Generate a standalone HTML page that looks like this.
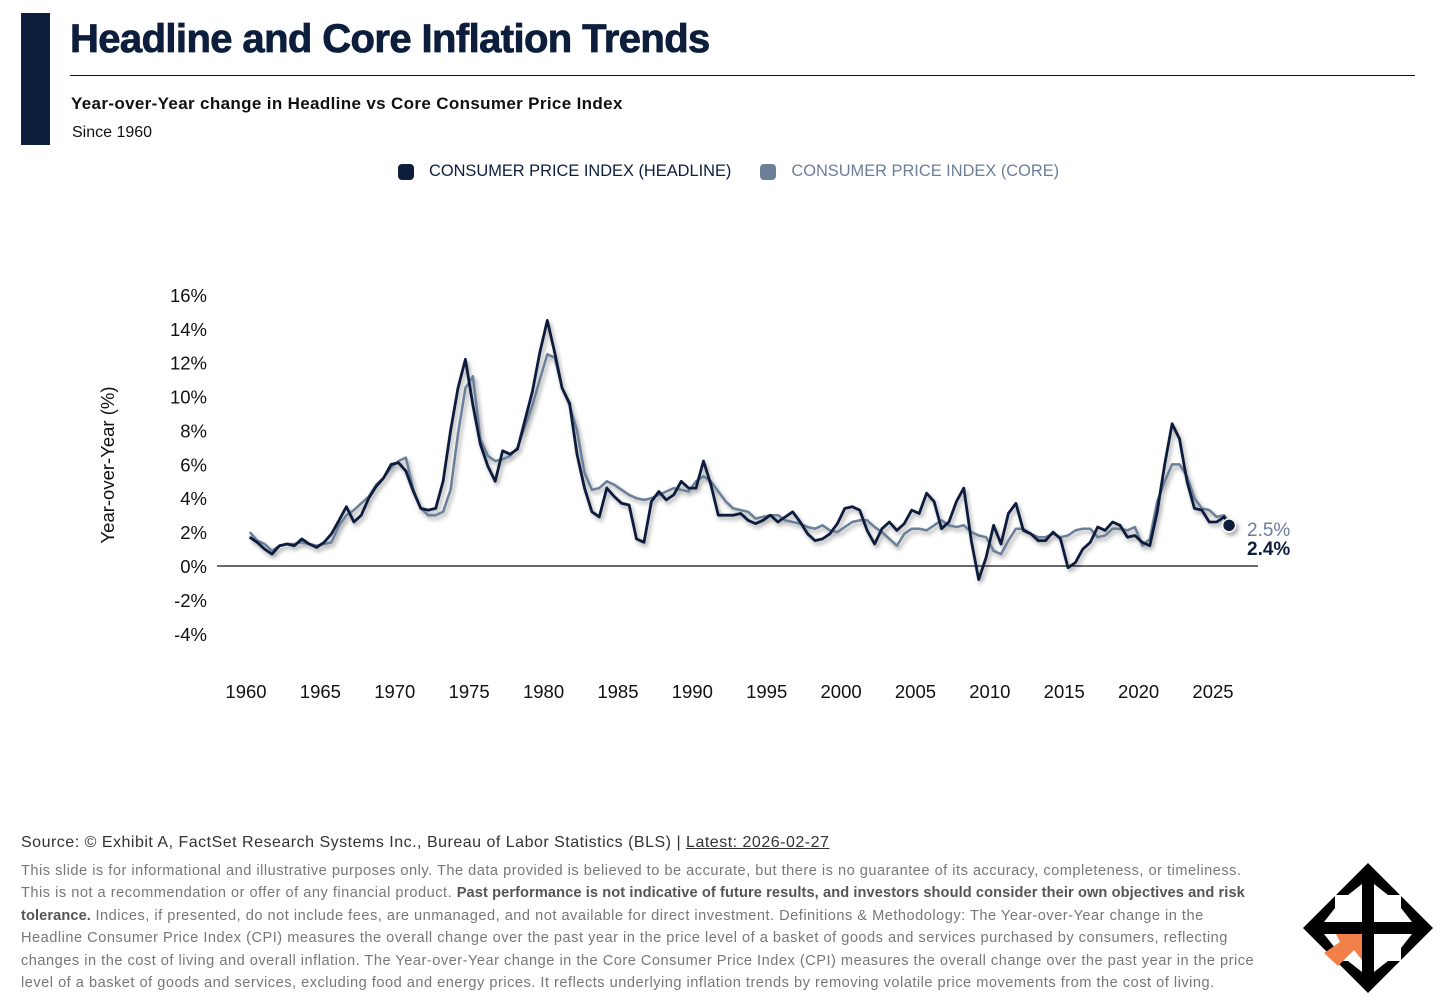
<!DOCTYPE html>
<html><head><meta charset="utf-8"><style>
body{margin:0;width:1456px;height:1007px;background:#fff;font-family:"Liberation Sans",sans-serif;position:relative;overflow:hidden;color:#111}
.abs{position:absolute}
</style></head><body>
<div class="abs" style="left:21px;top:13px;width:29px;height:132px;background:#0c1e3c"></div>
<div class="abs" style="left:70px;top:17px;font-size:40px;font-weight:bold;color:#0c1e3c;letter-spacing:-0.6px;-webkit-text-stroke:0.8px #0c1e3c">Headline and Core Inflation Trends</div>
<div class="abs" style="left:70px;top:75px;width:1345px;height:1px;background:#111"></div>
<div class="abs" style="left:71px;top:94px;font-size:17px;font-weight:bold;letter-spacing:0.35px">Year-over-Year change in Headline vs Core Consumer Price Index</div>
<div class="abs" style="left:72px;top:124px;font-size:16px">Since 1960</div>
<div class="abs" style="left:398px;top:162px;font-size:16.4px;display:flex;align-items:center">
 <span style="width:16px;height:16px;border-radius:4px;background:#0c1e3c;display:inline-block;margin-right:15px"></span><span style="color:#0c1e3c;margin-right:29px">CONSUMER PRICE INDEX (HEADLINE)</span>
 <span style="width:16px;height:16px;border-radius:4px;background:#6b7f99;display:inline-block;margin-right:15px"></span><span style="color:#6b7f99">CONSUMER PRICE INDEX (CORE)</span>
</div>
<svg class="abs" style="left:0;top:0" width="1456" height="800" id="chart">
<defs><filter id="sh" x="-5%" y="-5%" width="110%" height="120%"><feDropShadow dx="2" dy="3" stdDeviation="2" flood-color="#000" flood-opacity="0.35"/></filter></defs>
<g id="axes"></g><g id="series" filter="url(#sh)"></g><g id="labels"></g>
</svg>
<div class="abs" style="left:21px;top:834px;font-size:16px;letter-spacing:0.5px;color:#333">Source: © Exhibit A, FactSet Research Systems Inc., Bureau of Labor Statistics (BLS) | <span style="text-decoration:underline">Latest: 2026-02-27</span></div>
<div class="abs" style="left:21px;top:860px;white-space:nowrap;font-size:14.6px;letter-spacing:0.5px;line-height:22.4px;color:#777">This slide is for informational and illustrative purposes only. The data provided is believed to be accurate, but there is no guarantee of its accuracy, completeness, or timeliness.<br>This is not a recommendation or offer of any financial product. <b style="color:#555;letter-spacing:0.1px">Past performance is not indicative of future results, and investors should consider their own objectives and risk<br>tolerance.</b> Indices, if presented, do not include fees, are unmanaged, and not available for direct investment. Definitions &amp; Methodology: The Year-over-Year change in the<br>Headline Consumer Price Index (CPI) measures the overall change over the past year in the price level of a basket of goods and services purchased by consumers, reflecting<br>changes in the cost of living and overall inflation. The Year-over-Year change in the Core Consumer Price Index (CPI) measures the overall change over the past year in the price<br>level of a basket of goods and services, excluding food and energy prices. It reflects underlying inflation trends by removing volatile price movements from the cost of living.</div>
<svg class="abs" style="left:1300px;top:860px" width="136" height="136" viewBox="0 0 136 136">
<g fill="#000"><polygon points="68,3 100,35 88,35 74,24 74,62 112,62 101,48 101,36 133,68 101,100 101,88 112,74 74,74 74,112 88,101 100,101 68,133 36,101 48,101 62,112 62,74 24,74 35,88 35,100 3,68 35,36 35,48 24,62 62,62 62,24 48,35 36,35"/></g>
<polygon points="36,74 62,74 62,100 54,90 38,106 24,93 40,82" fill="#f07f4a"/>
</svg>
<script>
const yTicks=[16,14,12,10,8,6,4,2,0,-2,-4];
const xTicks=[1960,1965,1970,1975,1980,1985,1990,1995,2000,2005,2010,2015,2020,2025];
const startYear=1960.25, step=0.5;
const headline=[1.7,1.4,1.0,0.7,1.2,1.3,1.2,1.6,1.3,1.1,1.4,1.9,2.7,3.5,2.6,3.0,4.0,4.7,5.2,6.0,6.1,5.6,4.4,3.4,3.3,3.4,5.0,8.0,10.5,12.2,9.5,7.2,5.9,5.0,6.8,6.6,6.9,8.6,10.3,12.6,14.5,12.6,10.5,9.6,6.6,4.6,3.2,2.9,4.6,4.1,3.7,3.6,1.6,1.4,3.8,4.4,3.9,4.2,5.0,4.6,4.6,6.2,4.8,3.0,3.0,3.0,3.1,2.7,2.5,2.7,3.0,2.6,2.9,3.2,2.6,1.9,1.5,1.6,1.9,2.5,3.4,3.5,3.3,2.1,1.3,2.2,2.6,2.1,2.5,3.3,3.1,4.3,3.8,2.2,2.6,3.8,4.6,1.5,-0.8,0.5,2.4,1.3,3.1,3.7,2.1,1.9,1.5,1.5,2.0,1.6,-0.1,0.2,1.0,1.4,2.3,2.1,2.6,2.4,1.7,1.8,1.4,1.2,3.2,6.0,8.4,7.5,5.0,3.4,3.3,2.6,2.6,2.9,2.4];
const core=[2.0,1.5,1.3,0.9,1.2,1.3,1.3,1.4,1.3,1.2,1.3,1.4,2.4,3.0,3.3,3.7,4.1,4.8,5.2,5.8,6.2,6.4,4.5,3.4,3.0,3.0,3.2,4.5,7.8,10.5,11.2,7.5,6.5,6.2,6.3,6.5,7.0,8.2,9.5,11.0,12.5,12.3,10.5,9.5,8.0,5.5,4.5,4.6,5.0,4.8,4.5,4.2,4.0,3.9,4.0,4.2,4.4,4.6,4.5,4.4,5.0,5.3,5.0,4.4,3.8,3.4,3.3,3.2,2.8,2.9,3.0,3.0,2.7,2.6,2.5,2.3,2.2,2.4,2.1,2.0,2.3,2.6,2.7,2.7,2.3,2.0,1.6,1.2,1.9,2.2,2.2,2.1,2.4,2.7,2.4,2.3,2.4,2.0,1.8,1.7,0.9,0.7,1.5,2.2,2.2,1.9,1.7,1.7,1.9,1.7,1.8,2.1,2.2,2.2,1.7,1.8,2.2,2.2,2.1,2.3,1.2,1.6,3.8,5.0,6.0,6.0,5.3,4.0,3.4,3.3,2.9,3.0,2.5];
const latestLabels=["2.5%","2.4%"];
function xs(t){return 246+(t-1960)*14.877;}
function ys(v){return 566-v*16.94;}
const NS="http://www.w3.org/2000/svg";
const ax=document.getElementById('axes'),se=document.getElementById('series'),lb=document.getElementById('labels');
function mk(tag,attrs,parent){const e=document.createElementNS(NS,tag);for(const k in attrs)e.setAttribute(k,attrs[k]);parent.appendChild(e);return e;}
yTicks.forEach(v=>{const t=mk('text',{x:207,y:ys(v)+7,'text-anchor':'end','font-size':18.5,fill:'#111','font-family':'Liberation Sans'},ax);t.textContent=v+'%';

});
xTicks.forEach(v=>{const t=mk('text',{x:xs(v),y:698,'text-anchor':'middle','font-size':18.5,fill:'#111','font-family':'Liberation Sans'},ax);t.textContent=v;

});
const zl=mk('line',{x1:217,x2:1258,y1:ys(0),y2:ys(0),stroke:'#111','stroke-width':1.3},ax);


const yt=mk('text',{x:0,y:0,transform:'translate(114,465) rotate(-90)','text-anchor':'middle','font-size':18.5,fill:'#111','font-family':'Liberation Sans'},ax);yt.textContent='Year-over-Year (%)';


function pts(arr){return arr.map((v,i)=>{const t=i===arr.length-1?2026.08:startYear+i*step;return xs(t).toFixed(1)+','+ys(v).toFixed(1);}).join(' ');}
const pc=mk('polyline',{points:pts(core),fill:'none',stroke:'#6b7f99','stroke-width':2.5,'stroke-linejoin':'round'},se);


const ph=mk('polyline',{points:pts(headline),fill:'none',stroke:'#0c1e3c','stroke-width':2.8,'stroke-linejoin':'round'},se);


const lastH=headline[headline.length-1];
const dot=mk('circle',{cx:xs(2026.08),cy:ys(lastH),r:6.5,fill:'#0c1e3c',stroke:'#fff','stroke-width':1.5},se);


const l1=mk('text',{x:1247,y:536,'font-size':19,fill:'#6b7f99','font-family':'Liberation Sans'},lb);l1.textContent=latestLabels[0];


const l2=mk('text',{x:1247,y:555,'font-size':19,'font-weight':'bold',fill:'#0c1e3c','font-family':'Liberation Sans'},lb);l2.textContent=latestLabels[1];


</script>
</body></html>
